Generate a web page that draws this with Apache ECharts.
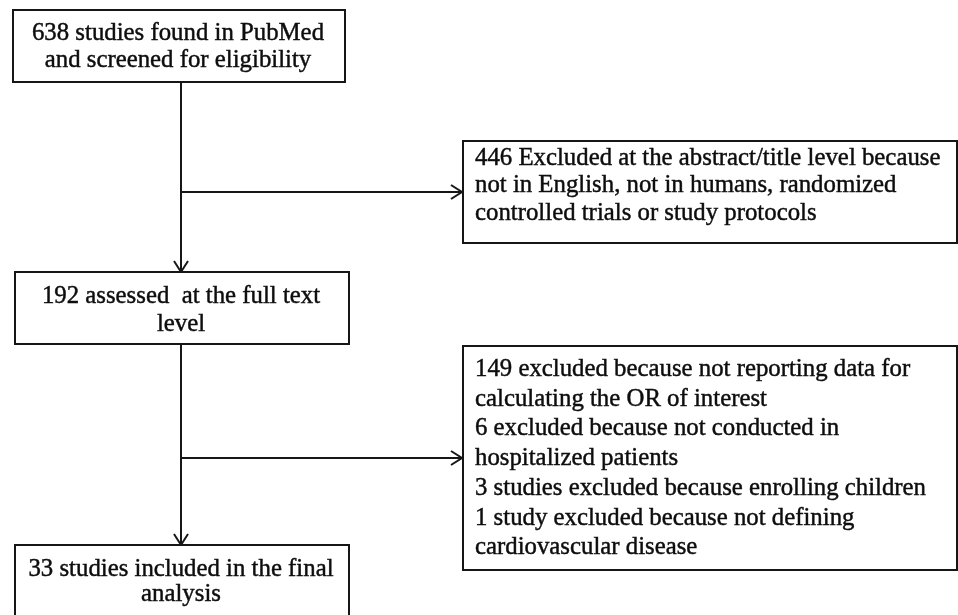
<!DOCTYPE html>
<html>
<head>
<meta charset="utf-8">
<script src="https://cdn.jsdelivr.net/npm/echarts@6/dist/echarts.min.js"></script>
<style>
  html, body { margin: 0; padding: 0; background: #ffffff; }
  #chart { width: 958px; height: 615px; }
</style>
</head>
<body>
<div id="chart"></div>
<script>
// ---- Flow stage texts (data) ----
const stageIdentified = ["638 studies found in PubMed", "and screened for eligibility"];
const stageExcludedAbstract = ["446 Excluded at the abstract/title level because", "not in English, not in humans, randomized", "controlled trials or study protocols"];
const stageFullText = ["192 assessed  at the full text", "level"];
const stageExcludedFullText = [
  "149 excluded because not reporting data for",
  "calculating the OR of interest",
  "6 excluded because not conducted in",
  "hospitalized patients",
  "3 studies excluded because enrolling children",
  "1 study excluded because not defining",
  "cardiovascular disease"
];
const stageIncluded = ["33 studies included in the final", "analysis"];
const stageTexts = [stageIdentified, stageExcludedAbstract, stageFullText, stageExcludedFullText, stageIncluded];

// ---- Layout (positions in the 958x615 canvas space, mapped via hidden axes) ----
const boxLayout = [
  { x0: 13,  y0: 10,  x1: 345, y1: 82,  align: 'center', tx: 178, ty: 33,    lh: 27 },
  { x0: 463, y0: 141, x1: 957, y1: 243, align: 'left',   tx: 475, ty: 158,   lh: 27.5 },
  { x0: 15,  y0: 272, x1: 349, y1: 344, align: 'center', tx: 181, ty: 296,   lh: 28 },
  { x0: 463, y0: 346, x1: 957, y1: 570, align: 'left',   tx: 475, ty: 369.5, lh: 29.7 },
  { x0: 15,  y0: 545, x1: 349, y1: 630, align: 'center', tx: 181, ty: 569,   lh: 25 }
];
// connectors: [x0, y0, x1, y1, hasArrow]
const connectors = [
  [181, 82, 181, 272, 1],
  [181, 192, 462, 192, 1],
  [181, 344, 181, 545, 1],
  [181, 458, 462, 458, 1]
];

const INK = '#161616';
const FONT = '"Liberation Serif", "Times New Roman", serif';

const chart = echarts.init(document.getElementById('chart'), null, { renderer: 'canvas' });

const option = {
  animation: false,
  backgroundColor: '#ffffff',
  grid: { left: 0, right: 0, top: 0, bottom: 0 },
  xAxis: { type: 'value', min: 0, max: 958, show: false },
  yAxis: { type: 'value', min: 0, max: 615, inverse: true, show: false },
  series: [
    {
      type: 'custom',
      coordinateSystem: 'cartesian2d',
      clip: false,
      data: connectors,
      renderItem: function (params, api) {
        const p0 = api.coord([api.value(0), api.value(1)]);
        const p1 = api.coord([api.value(2), api.value(3)]);
        const children = [{
          type: 'line',
          shape: { x1: p0[0], y1: p0[1], x2: p1[0], y2: p1[1] },
          style: { stroke: INK, lineWidth: 2 }
        }];
        if (api.value(4)) {
          const dx = p1[0] - p0[0], dy = p1[1] - p0[1];
          const len = Math.sqrt(dx * dx + dy * dy);
          const ux = dx / len, uy = dy / len;
          const L = 11, W = 7;
          const bx = p1[0] - ux * L, by = p1[1] - uy * L;
          children.push({
            type: 'polyline',
            shape: { points: [[bx - uy * W, by + ux * W], [p1[0], p1[1]], [bx + uy * W, by - ux * W]] },
            style: { stroke: INK, lineWidth: 2, fill: null }
          });
        }
        return { type: 'group', children: children };
      }
    },
    {
      type: 'custom',
      coordinateSystem: 'cartesian2d',
      clip: false,
      data: boxLayout.map(function (b, i) { return [b.x0, b.y0, b.x1, b.y1, i]; }),
      renderItem: function (params, api) {
        const i = api.value(4);
        const b = boxLayout[i];
        const p0 = api.coord([api.value(0), api.value(1)]);
        const p1 = api.coord([api.value(2), api.value(3)]);
        const children = [{
          type: 'rect',
          shape: { x: p0[0], y: p0[1], width: p1[0] - p0[0], height: p1[1] - p0[1] },
          style: { fill: '#ffffff', stroke: INK, lineWidth: 2 }
        }];
        stageTexts[i].forEach(function (line, k) {
          const tp = api.coord([b.tx, b.ty + k * b.lh]);
          children.push({
            type: 'text',
            style: {
              text: line,
              x: tp[0], y: tp[1],
              fill: '#0d0d0d',
              stroke: '#0d0d0d',
              lineWidth: 0.45,
              fontSize: 24.8,
              fontFamily: FONT,
              align: b.align,
              verticalAlign: 'middle'
            }
          });
        });
        return { type: 'group', children: children };
      }
    }
  ]
};
chart.setOption(option);
</script>
</body>
</html>
